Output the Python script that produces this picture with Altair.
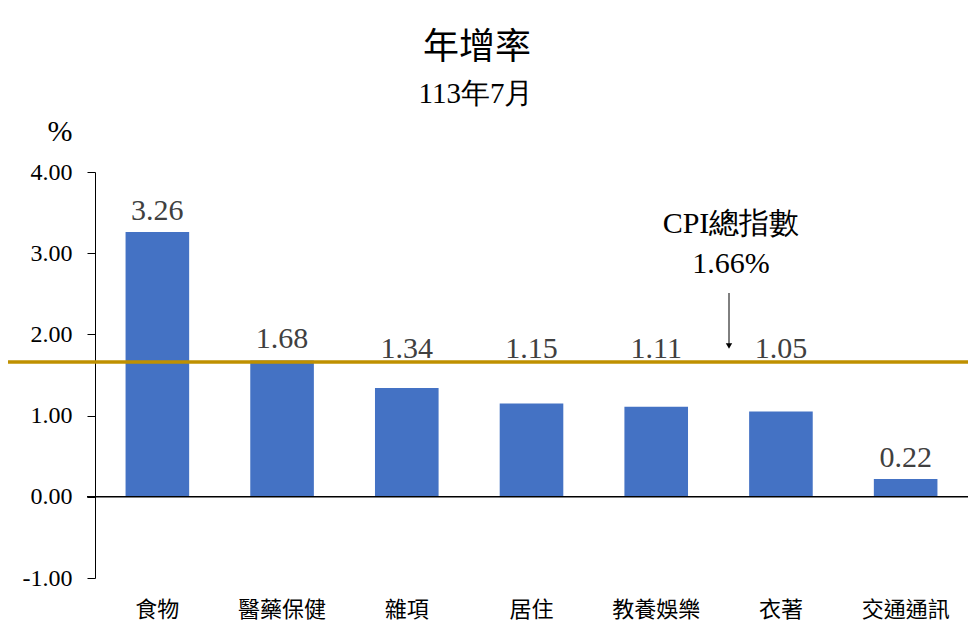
import altair as alt
import pandas as pd

categories = ["食物", "醫藥保健", "雜項", "居住", "教養娛樂", "衣著", "交通通訊"]
values = [3.26, 1.68, 1.34, 1.15, 1.11, 1.05, 0.22]
cpi_total = 1.66
y_ticks = [-1, 0, 1, 2, 3, 4]

df = pd.DataFrame({"cat": categories, "val": values})

W, H = 873, 406
serif = "Liberation Serif"
cjk = "Noto Sans CJK TC"

x_enc = alt.X("cat:N", sort=categories, title=None,
              scale=alt.Scale(paddingInner=0.49, paddingOuter=0.245),
              axis=alt.Axis(domain=False, ticks=False, labelAngle=0, labelFont=cjk,
                            labelFontSize=22, labelColor="black", labelPadding=21))
y_enc = alt.Y("val:Q", title=None,
              scale=alt.Scale(domain=[-1, 4], nice=False),
              axis=alt.Axis(values=y_ticks, grid=False, labelFont=serif,
                            labelExpr="datum.value < 0 ? '-' + format(-datum.value, '.2f') : format(datum.value, '.2f')",
                            labelFontSize=24, labelColor="black", tickSize=8,
                            tickColor="black", domainColor="black", labelPadding=15))

bars = alt.Chart(df).mark_bar(color="#4472C4").encode(x=x_enc, y=y_enc)

base_lbl = alt.Chart(df).transform_calculate(
    near=f"datum.val < {cpi_total} && datum.val > 0.5"
)

labels_top = base_lbl.transform_filter("!datum.near").mark_text(
    font=serif, fontSize=30, color="#404040", baseline="alphabetic", dy=-12).encode(
    x=alt.X("cat:N", sort=categories), y="val:Q", text=alt.Text("val:Q", format=".2f"))

labels_line = base_lbl.transform_filter("datum.near").transform_calculate(
    ly=str(cpi_total)
).mark_text(
    font=serif, fontSize=30, color="#404040", baseline="alphabetic", dy=-4).encode(
    x=alt.X("cat:N", sort=categories), y="ly:Q", text=alt.Text("val:Q", format=".2f"))

zero = alt.Chart(pd.DataFrame({"v": [0]})).mark_rule(color="black", strokeWidth=1.5).encode(
    y="v:Q", x=alt.value(-8), x2=alt.value(W))

cpi_line = alt.Chart(pd.DataFrame({"v": [cpi_total]})).mark_rule(
    color="#BF9000", strokeWidth=3.5).encode(y="v:Q", x=alt.value(-90), x2=alt.value(W + 20))

arrow_x = 634
arrow = alt.Chart(pd.DataFrame({"a": [0]})).mark_rule(color="black", strokeWidth=1).encode(
    x=alt.value(arrow_x), y=alt.value(121), y2=alt.value(172))
arrow_head = alt.Chart(pd.DataFrame({"a": [0]})).mark_point(
    shape="triangle-down", filled=True, color="black", size=40, opacity=1).encode(
    x=alt.value(arrow_x), y=alt.value(174))

ann1 = alt.Chart(pd.DataFrame({"t": ["CPI總指數"]})).mark_text(
    font=serif, fontSize=30, color="black", baseline="alphabetic").encode(
    text="t:N", x=alt.value(636), y=alt.value(61))
ann2 = alt.Chart(pd.DataFrame({"t": [f"{cpi_total:.2f}%"]})).mark_text(
    font=serif, fontSize=30, color="black", baseline="alphabetic").encode(
    text="t:N", x=alt.value(636), y=alt.value(101))

title = alt.Chart(pd.DataFrame({"t": ["年增率"]})).mark_text(
    font=cjk, fontSize=36, color="black", baseline="alphabetic").encode(
    text="t:N", x=alt.value(382), y=alt.value(-113))
subtitle = alt.Chart(pd.DataFrame({"t": ["113年7月"]})).mark_text(
    font=serif, fontSize=29, color="black", baseline="alphabetic").encode(
    text="t:N", x=alt.value(381), y=alt.value(-69))
pct = alt.Chart(pd.DataFrame({"t": ["%"]})).mark_text(
    font=serif, fontSize=30, color="black", baseline="alphabetic").encode(
    text="t:N", x=alt.value(-35), y=alt.value(-31))

chart = alt.layer(bars, zero, cpi_line, labels_top, labels_line, arrow, arrow_head,
                  ann1, ann2, title, subtitle, pct).properties(
    width=W, height=H,
    autosize=alt.AutoSizeParams(type="none"),
    padding={"left": 87, "top": 164, "right": 0, "bottom": 50},
).configure_view(stroke=None)

chart.save("out.html", embed_options={"renderer": "svg", "actions": False})
